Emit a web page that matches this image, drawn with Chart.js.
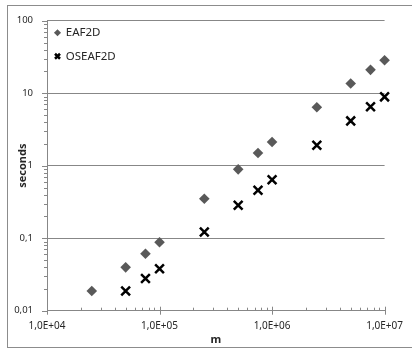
<!DOCTYPE html>
<html>
<head>
<meta charset="utf-8">
<script src="https://cdn.jsdelivr.net/npm/chart.js@4/dist/chart.umd.min.js"></script>
<style>
  html, body { margin: 0; padding: 0; background: #fff; overflow: hidden; }
  canvas { display: block; }
</style>
</head>
<body>
<canvas id="chart" width="412" height="351"></canvas>
<script>
// problem size m and running times in seconds
const sizes = [2.5e4, 5e4, 7.5e4, 1e5, 2.5e5, 5e5, 7.5e5, 1e6, 2.5e6, 5e6, 7.5e6, 1e7];
const eaf2d = [0.0187, 0.0396, 0.061, 0.088, 0.35, 0.89, 1.5, 2.12, 6.4, 13.6, 21, 28.5];
const oseaf2d = [null, 0.0187, 0.0279, 0.038, 0.122, 0.284, 0.46, 0.64, 1.92, 4.15, 6.5, 8.9];

// axis ticks (powers of ten) and the labels printed for them
const xTickValues = [1e4, 1e5, 1e6, 1e7];
const xTickLabels = ['1,0E+04', '1,0E+05', '1,0E+06', '1,0E+07'];
const yTickValues = [0.01, 0.1, 1, 10, 100];
const yTickLabels = ['0,01', '0,1', '1', '10', '100'];

const gridGray = '#878787';
const textColor = '#262626';
const fontFamily = "'Noto Sans', 'Open Sans', sans-serif";

function toPoints(xs, ys) {
    return xs.map((x, i) => ({ x: x, y: ys[i] })).filter(p => p.y !== null);
}

// Excel-style tick marks: majors crossing, minors at 2..9 of each decade
const tickMarks = {
    id: 'tickMarks',
    afterDraw(chart) {
        const { ctx, chartArea, scales } = chart;
        ctx.save();
        ctx.strokeStyle = gridGray;
        ctx.lineWidth = 1;
        ctx.beginPath();
        for (let e = -2; e <= 2; e++) {
            for (let k = 1; k <= 9; k++) {
                const v = k * Math.pow(10, e);
                if (v > 100) break;
                const y = Math.round(scales.y.getPixelForValue(v)) + 0.5;
                const len = k === 1 ? 5 : 3;
                ctx.moveTo(chartArea.left - len, y);
                ctx.lineTo(chartArea.left, y);
            }
        }
        for (let e = 4; e <= 7; e++) {
            for (let k = 1; k <= 9; k++) {
                const v = k * Math.pow(10, e);
                if (v > 1e7) break;
                const x = Math.round(scales.x.getPixelForValue(v)) + 0.5;
                if (k === 1) {
                    ctx.moveTo(x, chartArea.bottom - 4);
                    ctx.lineTo(x, chartArea.bottom + 4);
                } else {
                    ctx.moveTo(x, chartArea.bottom - 3);
                    ctx.lineTo(x, chartArea.bottom);
                }
            }
        }
        ctx.stroke();
        ctx.restore();
    }
};

// thin frame around the whole chart
const frame = {
    id: 'frame',
    beforeDraw(chart) {
        const ctx = chart.ctx;
        ctx.save();
        ctx.strokeStyle = '#8c8c8c';
        ctx.lineWidth = 1;
        ctx.strokeRect(7.5, 5.5, chart.width, 342);
        ctx.restore();
    }
};

// nudge the in-plot legend a little down and left of the plot corner
const legendOffset = {
    id: 'legendOffset',
    afterLayout(chart) {
        if (!chart.legend) return;
        chart.legend.left -= 4;
        chart.legend.top += 15;
    }
};

new Chart(document.getElementById('chart'), {
    type: 'scatter',
    data: {
        datasets: [
            {
                label: 'EAF2D',
                data: toPoints(sizes, eaf2d),
                pointStyle: 'rectRot',
                pointRadius: 5.3,
                pointHoverRadius: 5.3,
                backgroundColor: '#595959',
                borderColor: '#595959',
                pointBorderWidth: 0,
                clip: false
            },
            {
                label: 'OSEAF2D',
                data: toPoints(sizes, oseaf2d),
                pointStyle: 'crossRot',
                pointRadius: 6.2,
                pointHoverRadius: 6.2,
                backgroundColor: '#000',
                borderColor: '#000',
                pointBorderWidth: 2.5,
                clip: false
            }
        ]
    },
    options: {
        responsive: false,
        animation: false,
        layout: { padding: { left: 0, top: 20.7, right: 24, bottom: 0 } },
        plugins: {
            legend: {
                position: 'chartArea',
                align: 'start',
                labels: {
                    usePointStyle: true,
                    boxHeight: 5,
                    boxWidth: 5,
                    padding: 12,
                    color: textColor,
                    font: { family: fontFamily, size: 11.5 }
                }
            },
            tooltip: { enabled: false }
        },
        scales: {
            x: {
                type: 'logarithmic',
                min: 1e4,
                max: 1e7,
                afterBuildTicks: s => { s.ticks = xTickValues.map(v => ({ value: v })); },
                afterFit: s => { s.height = 40.3; },
                grid: { display: true, drawOnChartArea: false, drawTicks: false },
                border: { display: true, color: gridGray },
                ticks: {
                    padding: 9,
                    maxRotation: 0,
                    color: textColor,
                    font: { family: fontFamily, size: 10 },
                    callback: (v, i) => xTickLabels[i]
                },
                title: {
                    display: true,
                    text: 'm',
                    color: textColor,
                    padding: { top: 0, bottom: 5 },
                    font: { family: fontFamily, size: 11, weight: 'bold' }
                }
            },
            y: {
                type: 'logarithmic',
                min: 0.01,
                max: 100,
                afterBuildTicks: s => { s.ticks = yTickValues.map(v => ({ value: v })); },
                afterFit: s => { s.width = 47; },
                grid: { color: gridGray, drawTicks: false },
                border: { display: true, color: gridGray },
                ticks: {
                    padding: 14,
                    color: textColor,
                    font: { family: fontFamily, size: 9.5 },
                    callback: (v, i) => yTickLabels[i]
                },
                title: {
                    display: true,
                    text: 'seconds',
                    color: textColor,
                    padding: { top: 16, bottom: 0 },
                    font: { family: fontFamily, size: 11, weight: 'bold' }
                }
            }
        }
    },
    plugins: [frame, tickMarks, legendOffset]
});
</script>
</body>
</html>
